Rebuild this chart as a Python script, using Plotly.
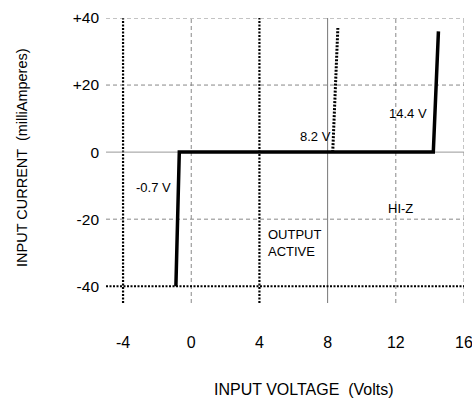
import plotly.graph_objects as go

# Data
x_ticks = [-4, 0, 4, 8, 12, 16]
x_tick_labels = ["-4", "0", "4", "8", "12", "16"]
y_ticks = [-40, -20, 0, 20, 40]
y_tick_labels = ["-40", "-20", "0", "+20", "+40"]

main_v = [-0.9, -0.7, 14.2, 14.5]
main_i = [-40, 0, 0, 36]
branch_v = [8.3, 8.6]
branch_i = [0, 37]

labels_text = ["-0.7 V", "8.2 V", "14.4 V", "HI-Z", "OUTPUT<br>ACTIVE"]
labels_v = [-1.05, 7.3, 12.7, 12.3, 4.4]
labels_i = [-10.7, 4.8, 11.4, -16.9, -27]
labels_anchor = ["right", "center", "center", "center", "left"]

X_RANGE = [-5, 16]
Y_RANGE = [-45, 40]

FONT = "Liberation Sans, Arial, sans-serif"

fig = go.Figure()

shapes = []
# vertical grid lines
for v in x_ticks:
    if v in (-4, 4):
        line = dict(color="black", width=2.2, dash="2px,1.5px")
    elif v == 8:
        line = dict(color="#777777", width=1)
    else:
        line = dict(color="#888888", width=1, dash="4px,3px")
    shapes.append(dict(type="line", xref="x", yref="y", x0=v, x1=v,
                       y0=Y_RANGE[0], y1=Y_RANGE[1], line=line, layer="below"))
# horizontal grid lines
for i in y_ticks:
    if i == -40:
        line = dict(color="black", width=2.2, dash="2px,1.5px")
    elif i == 0:
        line = dict(color="#999999", width=1)
    else:
        line = dict(color="#888888", width=1, dash="4px,3px")
    shapes.append(dict(type="line", xref="x", yref="y", x0=X_RANGE[0], x1=X_RANGE[1],
                       y0=i, y1=i, line=line, layer="below"))

fig.add_trace(go.Scatter(x=main_v, y=main_i, mode="lines",
                         line=dict(color="black", width=3.5), hoverinfo="skip"))
fig.add_trace(go.Scatter(x=branch_v, y=branch_i, mode="lines",
                         line=dict(color="black", width=3, dash="2px,1.5px"), hoverinfo="skip"))

annotations = []
for t, xv, yv, a in zip(labels_text, labels_v, labels_i, labels_anchor):
    annotations.append(dict(x=xv, y=yv, xref="x", yref="y", text=t, showarrow=False,
                            xanchor=a, yanchor="middle", align="left",
                            font=dict(family=FONT, size=13, color="black")))
annotations.append(dict(x=304, y=389, text="INPUT VOLTAGE  (Volts)",
                        showarrow=False, font=dict(family=FONT, size=16, color="black")))
annotations.append(dict(x=22, y=158, text="INPUT CURRENT  (milliAmperes)", showarrow=False,
                        textangle=-90, font=dict(family=FONT, size=14.5, color="black")))

# convert pixel-placed titles to paper coords
W, H = 472, 402
L, R, T, B = 106, 8, 18, 99
pw, ph = W - L - R, H - T - B
for a in annotations[-2:]:
    px, py = a["x"], a["y"]
    a["xref"] = "paper"; a["yref"] = "paper"
    a["x"] = (px - L) / pw
    a["y"] = 1 - (py - T) / ph
    a["xanchor"] = "center"; a["yanchor"] = "middle"

fig.update_layout(
    width=W, height=H,
    margin=dict(l=L, r=R, t=T, b=B),
    paper_bgcolor="white", plot_bgcolor="white",
    showlegend=False,
    shapes=shapes,
    annotations=annotations,
    xaxis=dict(range=X_RANGE, tickvals=x_ticks, ticktext=x_tick_labels,
               showgrid=False, zeroline=False, showline=False, ticks="",
               ticklabelstandoff=28, automargin=False, ticklabeloverflow="allow",
               tickfont=dict(family=FONT, size=16, color="black")),
    yaxis=dict(range=Y_RANGE, tickvals=y_ticks, ticktext=y_tick_labels,
               showgrid=False, zeroline=False, showline=False, ticks="",
               ticklabelstandoff=6, automargin=False, ticklabeloverflow="allow",
               tickfont=dict(family=FONT, size=15.5, color="black")),
)

fig.write_html("out.html", config={"displayModeBar": False},
               post_script="document.body.style.margin='0';document.body.style.padding='0';")
